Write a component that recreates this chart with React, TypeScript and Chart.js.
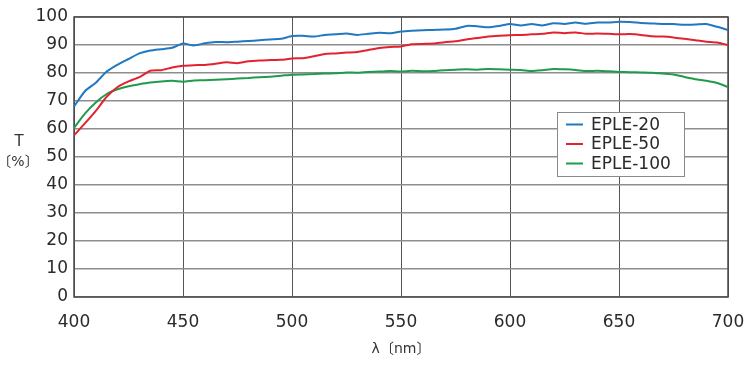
import React, { useEffect, useRef } from "react";
import { Chart, registerables } from "chart.js";

Chart.register(...registerables);

// Wavelength (nm)
const wavelengths = [
  400, 405, 410, 415, 420, 425, 430, 435, 440, 445, 450, 455, 460, 465, 470, 475,
  480, 485, 490, 495, 500, 505, 510, 515, 520, 525, 530, 535, 540, 545, 550, 555,
  560, 565, 570, 575, 580, 585, 590, 595, 600, 605, 610, 615, 620, 625, 630, 635,
  640, 645, 650, 655, 660, 665, 670, 675, 680, 685, 690, 695, 700,
];

// Transmittance T (%)
const eple20 = [
  68, 73.5, 76.5, 80.5, 83, 85, 87, 88, 88.5, 89, 90.5, 89.8, 90.6, 91.1, 91, 91.2,
  91.4, 91.7, 92, 92.2, 93.2, 93.3, 93, 93.6, 93.8, 94.1, 93.6, 94, 94.4, 94.2, 94.8, 95.1,
  95.3, 95.4, 95.5, 95.8, 96.8, 96.7, 96.3, 96.8, 97.5, 97, 97.5, 97, 97.8, 97.5, 98, 97.6,
  98, 98, 98.3, 98.2, 97.9, 97.7, 97.5, 97.5, 97.2, 97.3, 97.5, 96.5, 95.3,
];
const eple50 = [
  57.7, 62, 66.5, 71.5, 75, 77, 78.5, 80.8, 81, 82, 82.6, 82.8, 82.9, 83.3, 83.8, 83.5,
  84.2, 84.5, 84.6, 84.7, 85.2, 85.3, 86, 86.8, 87, 87.3, 87.5, 88.2, 88.9, 89.3, 89.5, 90.3,
  90.4, 90.5, 91, 91.3, 92, 92.5, 93, 93.3, 93.5, 93.6, 93.8, 94, 94.5, 94.2, 94.5, 94,
  94.1, 94, 93.8, 93.9, 93.6, 93.1, 93, 92.7, 92.2, 91.7, 91.2, 90.9, 90,
];
const eple100 = [
  60.4, 65.5, 69.5, 72.5, 74.2, 75.3, 76, 76.6, 77, 77.2, 76.9, 77.3, 77.4, 77.6, 77.8, 78,
  78.2, 78.5, 78.7, 79, 79.4, 79.5, 79.6, 79.8, 79.9, 80.2, 80.1, 80.4, 80.5, 80.7, 80.5, 80.8,
  80.6, 80.7, 81, 81.2, 81.3, 81.2, 81.4, 81.3, 81.2, 81.1, 80.7, 81, 81.4, 81.3, 81.1, 80.7,
  80.8, 80.6, 80.4, 80.3, 80.2, 80.1, 79.8, 79.5, 78.6, 77.8, 77.2, 76.4, 75,
];

const seriesLabels = ["EPLE-20", "EPLE-50", "EPLE-100"];
const seriesColors = ["#1f78c1", "#e3222f", "#1f9b4b"];

const xTickValues = [400, 450, 500, 550, 600, 650, 700];
const yTickValues = [0, 10, 20, 30, 40, 50, 60, 70, 80, 90, 100];

const xTitle = "λ〔nm〕";
const yTitleLines = ["T", "〔%〕"];

const FONT = "'DejaVu Sans', 'Noto Sans CJK JP', sans-serif";

const framePlugin = {
  id: "frame",
  beforeDatasetsDraw(chart: any) {
    const { ctx, chartArea } = chart;
    ctx.save();
    ctx.strokeStyle = "#4a4a4a";
    ctx.lineWidth = 1.5;
    ctx.strokeRect(chartArea.left, chartArea.top, chartArea.right - chartArea.left, chartArea.bottom - chartArea.top);
    ctx.restore();
  },
  afterDraw(chart: any) {
    const { ctx, chartArea } = chart;
    ctx.save();
    // y axis title
    ctx.fillStyle = "#333";
    ctx.textAlign = "center";
    ctx.textBaseline = "middle";
    ctx.font = `15px ${FONT}`;
    ctx.fillText(yTitleLines[0], 19, chartArea.top + 125);
    ctx.font = `14px ${FONT}`;
    ctx.fillText(yTitleLines[1], 18, chartArea.top + 145);

    // legend
    const bx = chartArea.left + 483;
    const by = chartArea.top + 95;
    const bw = 127;
    const bh = 64;
    ctx.fillStyle = "#ffffff";
    ctx.fillRect(bx, by, bw, bh);
    ctx.strokeStyle = "#8a8a8a";
    ctx.lineWidth = 1;
    ctx.strokeRect(bx + 0.5, by + 0.5, bw, bh);
    chart.data.datasets.forEach((ds: any, i: number) => {
      const cy = by + 12.5 + i * 19.5;
      ctx.strokeStyle = ds.borderColor;
      ctx.lineWidth = 2;
      ctx.beginPath();
      ctx.moveTo(bx + 9, cy);
      ctx.lineTo(bx + 26, cy);
      ctx.stroke();
      ctx.fillStyle = "#2a2a2a";
      ctx.textAlign = "left";
      ctx.textBaseline = "middle";
      ctx.font = `17px ${FONT}`;
      ctx.fillText(ds.label, bx + 34, cy + 1);
    });
    ctx.restore();
  },
};

export default function App() {
  const canvasRef = useRef<HTMLCanvasElement | null>(null);

  useEffect(() => {
    document.body.style.margin = "0";
    const canvas = canvasRef.current;
    if (!canvas) return;
    const seriesValues = [eple20, eple50, eple100];
    const chart = new Chart(canvas, {
      type: "line",
      data: {
        datasets: seriesLabels.map((label, i) => ({
          label,
          data: wavelengths.map((w, j) => ({ x: w, y: seriesValues[i][j] })),
          borderColor: seriesColors[i],
          backgroundColor: seriesColors[i],
          borderWidth: 2,
          pointRadius: 0,
          tension: 0.2,
          fill: false,
        })),
      },
      options: {
        responsive: false,
        animation: false,
        layout: { padding: { left: 0, right: 22, top: 17, bottom: 0 } },
        plugins: {
          legend: { display: false },
          tooltip: { enabled: false },
        },
        scales: {
          x: {
            type: "linear",
            min: 400,
            max: 700,
            afterBuildTicks: (scale: any) => {
              scale.ticks = xTickValues.map((v) => ({ value: v }));
            },
            afterFit: (scale: any) => {
              scale.height = 68;
              scale.paddingRight = 0;
              scale.paddingLeft = 0;
            },
            grid: {
              color: "#555555",
              lineWidth: 1,
              drawTicks: false,
            },
            border: { display: false },
            ticks: {
              padding: 15,
              color: "#2a2a2a",
              font: { family: FONT, size: 17 },
              maxRotation: 0,
            },
            title: {
              display: true,
              text: xTitle,
              color: "#333",
              font: { family: FONT, size: 14 },
              padding: { top: 0, bottom: 7 },
            },
          },
          y: {
            min: 0,
            max: 100,
            afterBuildTicks: (scale: any) => {
              scale.ticks = yTickValues.map((v) => ({ value: v }));
            },
            afterFit: (scale: any) => {
              scale.width = 74;
            },
            grid: {
              color: "#8e8e8e",
              lineWidth: 1.5,
              drawTicks: false,
            },
            border: { display: false },
            ticks: {
              padding: 6,
              color: "#2a2a2a",
              font: { family: FONT, size: 17 },
            },
          },
        },
      },
      plugins: [framePlugin],
    });
    return () => chart.destroy();
  }, []);

  return (
    <div style={{ width: 750, height: 365, background: "#fff" }}>
      <canvas ref={canvasRef} width={750} height={365} style={{ display: "block" }} />
    </div>
  );
}
